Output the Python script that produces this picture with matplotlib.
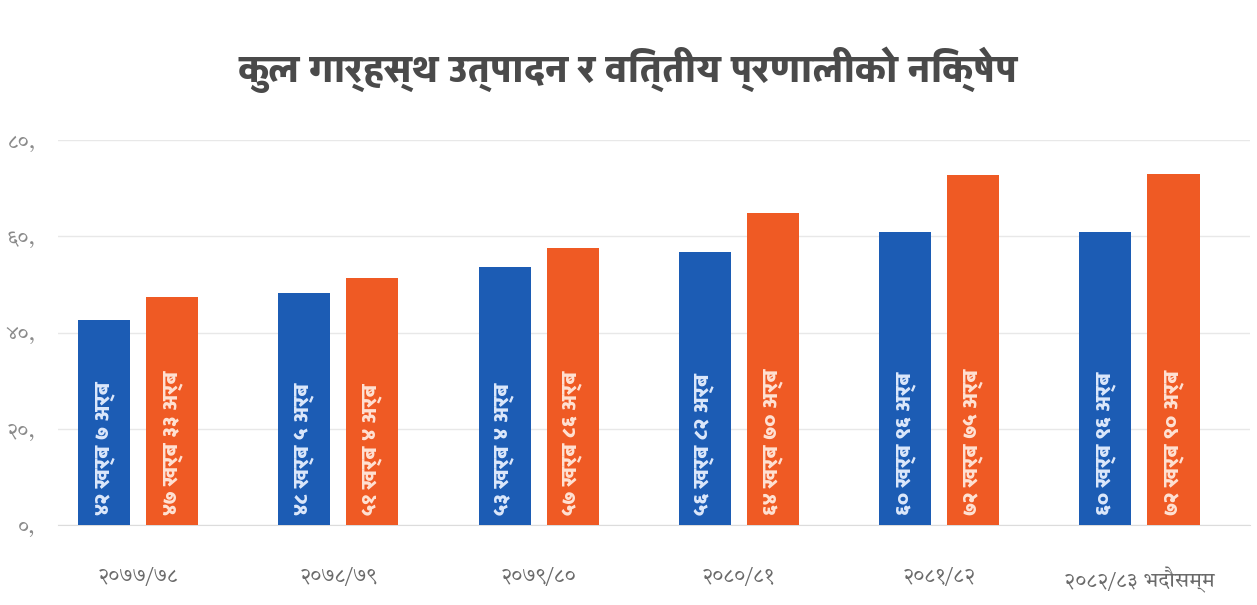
import matplotlib
matplotlib.use("Agg")
import matplotlib.pyplot as plt
import numpy as np
from matplotlib import font_manager
from matplotlib.ft2font import FT2Font

years = ["२०७७/७८", "२०७८/७९", "२०७९/८०", "२०८०/८१", "२०८१/८२", "२०८२/८३ भदौसम्म"]

# values in kharba
gdp = [42.6, 48.2, 53.6, 56.8, 60.9, 60.9]
deposit = [47.4, 51.3, 57.6, 64.8, 72.7, 72.9]

gdp_labels = ["४२ खर्ब ७ अर्ब", "४८ खर्ब ५ अर्ब", "५३ खर्ब ४ अर्ब",
              "५६ खर्ब ८२ अर्ब", "६० खर्ब ९६ अर्ब", "६० खर्ब ९६ अर्ब"]
deposit_labels = ["४७ खर्ब ३३ अर्ब", "५१ खर्ब ४ अर्ब", "५७ खर्ब ८६ अर्ब",
                  "६४ खर्ब ७० अर्ब", "७२ खर्ब ७५ अर्ब", "७२ खर्ब ९० अर्ब"]

y_ticks = [0, 20, 40, 60, 80]
y_tick_labels = ["०,", "२०,", "४०,", "६०,", "८०,"]

title = "कुल गार्हस्थ उत्पादन र वित्तीय प्रणालीको निक्षेप"

BLUE = "#1c5cb4"
ORANGE = "#ef5a24"


def devanagari_fonts():
    regular, bold = None, None
    for f in font_manager.fontManager.ttflist:
        try:
            cmap = FT2Font(f.fname).get_charmap()
        except Exception:
            continue
        if 0x0915 not in cmap:
            continue
        w = f.weight if isinstance(f.weight, int) else 400
        if w >= 600:
            if bold is None or w > 700:
                bold = f.fname
        elif regular is None or "Devanagari" in f.name:
            regular = f.fname
    return regular, bold


reg_file, bold_file = devanagari_fonts()
if reg_file:
    fp = font_manager.FontProperties(fname=reg_file)
else:
    fp = font_manager.FontProperties(family="DejaVu Sans")
if bold_file:
    fp_bold = font_manager.FontProperties(fname=bold_file)
else:
    fp_bold = fp.copy()
    fp_bold.set_weight("bold")

fig = plt.figure(figsize=(12.57, 6.05), dpi=100)
ax = fig.add_axes([0.0461, 0.1322, 0.948, 0.6364])

x = np.arange(len(years))
w = 0.26
off = 0.17
ax.bar(x - off, gdp, w, color=BLUE, zorder=3)
ax.bar(x + off, deposit, w, color=ORANGE, zorder=3)

for xi, lab in zip(x, gdp_labels):
    ax.text(xi - off, 2.0, lab, rotation=90, rotation_mode="anchor",
            ha="left", va="center", color="#dce8fb", fontproperties=fp_bold,
            fontsize=16, zorder=4)
for xi, lab in zip(x, deposit_labels):
    ax.text(xi + off, 2.0, lab, rotation=90, rotation_mode="anchor",
            ha="left", va="center", color="#ffe2d4", fontproperties=fp_bold,
            fontsize=16, zorder=4)

ax.set_xlim(-0.4, 5.55)
ax.set_ylim(0, 80)
ax.set_yticks(y_ticks)
ax.set_yticklabels(y_tick_labels, fontproperties=fp, fontsize=15, color="#8a8a8a")
ax.set_xticks(x)
ax.set_xticklabels(years, fontproperties=fp, fontsize=15, color="#6a6a6a")
ax.tick_params(axis="both", length=0)
ax.tick_params(axis="y", pad=16)
ax.tick_params(axis="x", pad=30)
ax.grid(axis="y", color="#e8e8e8", linewidth=1, zorder=0)
for s in ["top", "right", "left"]:
    ax.spines[s].set_visible(False)
ax.spines["bottom"].set_color("#dcdcdc")

fig.text(0.5, 0.885, title, ha="center", va="center", fontproperties=fp_bold,
         fontsize=28, color="#4a4a4a")

fig.savefig("out.png", dpi=100, facecolor="white")
